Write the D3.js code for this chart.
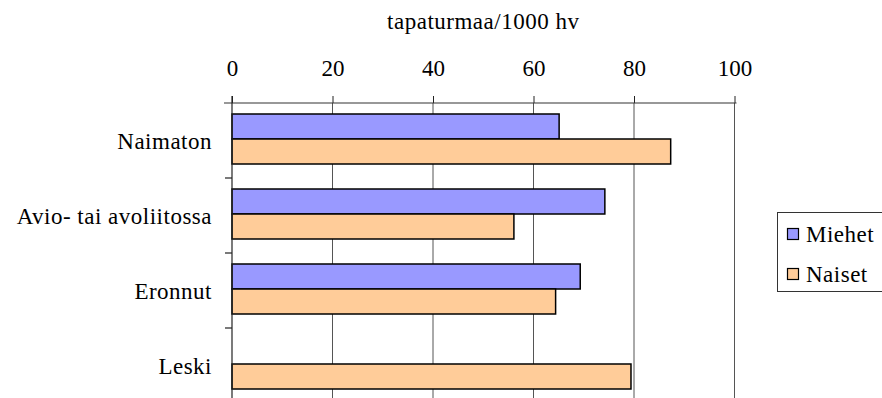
<!DOCTYPE html>
<html>
<head>
<meta charset="utf-8">
<script src="https://cdn.jsdelivr.net/npm/d3@7"></script>
</head>
<body style="margin:0">
<script>
// Accident rate per 1000 person-years by marital status
const categories = ["Naimaton", "Avio- tai avoliitossa", "Eronnut", "Leski"];
const seriesNames = ["Miehet", "Naiset"];
const miehet = [65.1, 74.2, 69.3, null];
const naiset = [87.3, 56.1, 64.4, 79.4];
const xTicks = [0, 20, 40, 60, 80, 100];
const axisTitle = "tapaturmaa/1000 hv";
const colors = ["#9999FF", "#FFCC99"];

const svg = d3.select("body").append("svg")
  .attr("width", 882).attr("height", 398)
  .style("display", "block");
const plotLeft = 232, plotRight = 734.5, plotTop = 103, plotBottom = 403;

// serif face for every label
function serif(sel, size) {
  return sel.attr("font-family", "Liberation Serif")
    .style("font-family", '"Liberation Serif"', "important")
    .attr("font-size", size);
}

const x = d3.scaleLinear().domain([0, 100]).range([plotLeft, plotRight]);
const y = d3.scaleBand().domain(categories).range([plotTop, plotBottom]);
const inner = d3.scaleBand().domain(seriesNames).range([11, 61]);

// vertical gridlines
svg.append("g").selectAll("line").data(xTicks.slice(1)).join("line")
  .attr("x1", d => x(d)).attr("x2", d => x(d))
  .attr("y1", plotTop).attr("y2", plotBottom)
  .attr("stroke", "#555").attr("stroke-width", 1);

// bars
const rows = categories.map((c, i) => ({ c, vals: [miehet[i], naiset[i]] }));
const g = svg.append("g");
rows.forEach(r => {
  r.vals.forEach((v, j) => {
    if (v == null) return;
    g.append("rect")
      .attr("x", x(0))
      .attr("y", y(r.c) + inner(seriesNames[j]))
      .attr("width", x(v) - x(0))
      .attr("height", inner.bandwidth())
      .attr("fill", colors[j])
      .attr("stroke", "#000")
      .attr("stroke-width", 1.5);
  });
});

// top axis
const xAxis = d3.axisTop(x).tickValues(xTicks).tickSize(7).tickPadding(20).tickFormat(d3.format("d"));
const ax = svg.append("g").attr("transform", `translate(0,${plotTop})`).call(xAxis);
serif(ax, 23);
ax.select(".domain").remove();
ax.append("line").attr("x1", plotLeft - 8).attr("x2", plotRight + 2).attr("y1", 0).attr("y2", 0)
  .attr("stroke", "#333").attr("stroke-width", 1.2);
ax.selectAll(".tick line").attr("stroke", "#222");
serif(ax.selectAll(".tick text").attr("fill", "#000"), 23);

// left axis
const ly = svg.append("g");
ly.append("line").attr("x1", plotLeft).attr("x2", plotLeft).attr("y1", plotTop - 7).attr("y2", plotBottom)
  .attr("stroke", "#222").attr("stroke-width", 1.2);
ly.selectAll("line.tk").data(categories.slice(1)).join("line").attr("class", "tk")
  .attr("x1", plotLeft - 7).attr("x2", plotLeft)
  .attr("y1", d => y(d)).attr("y2", d => y(d))
  .attr("stroke", "#222").attr("stroke-width", 1.2);
serif(ly.selectAll("text").data(categories).join("text"), 23)
  .attr("x", 212).attr("y", d => y(d) + y.bandwidth() / 2 + 8)
  .attr("text-anchor", "end")
  .attr("letter-spacing", 0.5)
  .text(d => d);

// axis title
serif(svg.append("text"), 23)
  .attr("x", (plotLeft + plotRight) / 2).attr("y", 29)
  .attr("text-anchor", "middle")
  .attr("letter-spacing", 0.5)
  .text(axisTitle);

// legend
const lg = svg.append("g");
lg.append("rect").attr("x", 777.5).attr("y", 212.5).attr("width", 110).attr("height", 79)
  .attr("fill", "#fff").attr("stroke", "#333").attr("stroke-width", 1);
seriesNames.forEach((s, i) => {
  lg.append("rect").attr("x", 787.5).attr("y", 228.5 + i * 40).attr("width", 11).attr("height", 11)
    .attr("fill", colors[i]).attr("stroke", "#000").attr("stroke-width", 1.2);
  serif(lg.append("text"), 23)
    .attr("x", 806).attr("y", 242 + i * 40)
    .attr("letter-spacing", 0.5)
    .text(s);
});
</script>
</body>
</html>
